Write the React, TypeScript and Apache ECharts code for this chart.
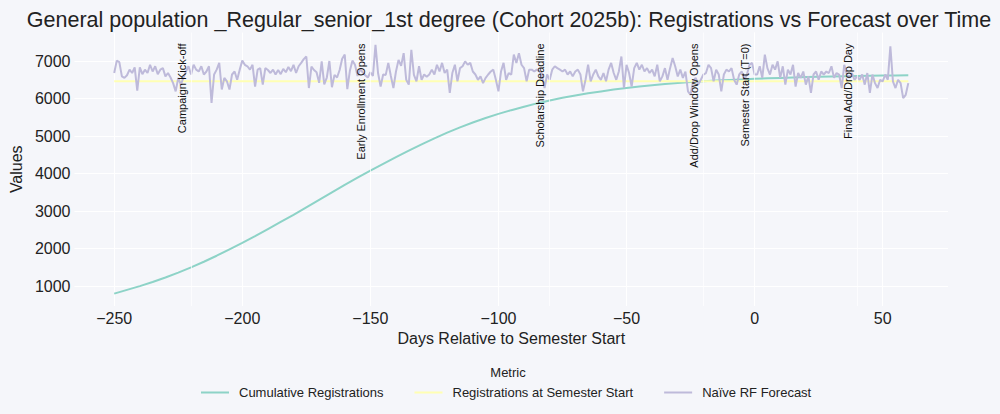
import { useEffect, useRef } from 'react';
import * as echarts from 'echarts';

const TITLE = 'General population _Regular_senior_1st degree (Cohort 2025b): Registrations vs Forecast over Time';
const X_AXIS_TITLE = 'Days Relative to Semester Start';
const Y_AXIS_TITLE = 'Values';
const LEGEND_TITLE = 'Metric';
const SERIES_NAMES = ['Cumulative Registrations', 'Registrations at Semester Start', 'Naïve RF Forecast'];
const COLORS = ['#8dd3c7', '#ffffb3', '#bebada'];

const FIRST_DAY = -250;
const LAST_DAY = 60;

// Cumulative registrations, one reading every 5 days from day -250 to day 60
const CUMULATIVE_STEP = 5;
const cumulativeValues = [
  800, 900, 1000, 1110, 1230, 1360, 1500, 1650, 1810, 1980,
  2150, 2330, 2520, 2710, 2900, 3100, 3300, 3500, 3700, 3890,
  4080, 4260, 4440, 4610, 4780, 4940, 5090, 5230, 5360, 5480,
  5590, 5690, 5780, 5870, 5950, 6020, 6080, 6140, 6190, 6240,
  6280, 6320, 6355, 6385, 6415, 6440, 6460, 6480, 6495, 6510,
  6525, 6538, 6550, 6561, 6571, 6580, 6588, 6595, 6601, 6606,
  6611, 6615, 6619,
];

const SEMESTER_START_VALUE = 6460;

// Naive RF forecast, daily, in five stretches
const forecastStartA = -250;
const forecastA = [
  6680, 7010, 6970, 6590, 6550, 6620, 6770, 6680, 6830, 6210,
  6830, 6650, 6770, 6680, 6900, 6720, 6860, 6650, 6770, 6810,
  6590, 6680, 6560, 6410, 6190, 6550, 6370, 6550, 6720, 6860,
  6640, 6900, 6770, 6720, 6860, 6640, 6720, 6860, 5880, 6640,
  6770, 6950, 6240, 6550, 6460, 6240, 6640, 6720, 6500, 6770,
  7010, 6900, 6860, 6770, 6900, 6320, 6770, 6810, 6370, 6810,
];
const forecastStartB = -190;
const forecastB = [
  6760, 6680, 6770, 6640, 6760, 6650, 6790, 6700, 6840, 6730,
  6900, 6680, 6860, 6950, 7050, 7120, 6280, 6850, 6760, 6700,
  6420, 6990, 6380, 6560, 7000, 6300, 6630, 6560, 6760, 7060,
  7170, 6250, 6740, 7010, 6900, 6600, 6780, 6700, 6620, 6560,
  6700, 6600, 7430, 6680, 6320, 6640, 6630, 6950, 6600, 6280,
  6720, 7030, 6870, 7210, 6500, 6370, 7300, 6630, 6460, 6860,
  6500, 6640, 6580, 6640,
];
const forecastStartC = -126;
const forecastC = [
  6770, 6640, 6900, 6720, 6950, 6680, 6770, 6150, 6680, 6900,
  6460, 6810, 6860, 6990, 6900, 6950, 6720, 6640, 6500, 6590,
  6410, 6550, 6640, 6720, 6770, 6500, 6190, 6720, 6950, 6500,
  6680, 6640, 7170, 6950, 7210, 6900, 6810, 6460, 6770, 6770,
  6720, 6770, 6720, 6640, 6280, 6640, 6500, 6770, 6860, 6810,
  6770, 6720, 6770, 6640, 6720, 6590, 6720, 6770, 6640, 6190,
  6500, 6900, 6460, 6640,
];
const forecastStartD = -62;
const forecastD = [
  6770, 6590, 6500, 6680, 6460, 6770, 6950, 6680, 6500, 6720,
  7120, 6280, 6900, 6680, 6320, 6810, 6950, 6770, 6900, 6720,
  6810, 6680, 6770, 6590, 6900, 6460, 6590, 6810, 6500, 6810,
  7080, 6860, 6590, 6770, 6550, 6720, 6190, 6100, 6460, 6550,
  6370, 6500, 6640, 6680, 6900, 6810, 6460, 6770, 6640, 6190,
  6640, 6770, 6720, 6810, 6500, 6370, 6640, 6720, 6500, 6640,
  6900, 6950, 6640,
];
const forecastStartE = 1;
const forecastE = [
  6640, 6860, 6550, 7170, 6810, 6640, 6900, 6770, 6990, 6550,
  6860, 6370, 6770, 6640, 6900, 6320, 6680, 6550, 6720, 6370,
  6590, 6150, 6640, 6720, 6500, 6720, 6640, 6720, 6680, 6860,
  6550, 6680, 6640, 6280, 6900, 6640, 6550, 6680, 6500, 6590,
  6500, 6640, 6370, 6680, 6150, 6640, 6410, 6280, 6500, 6460,
  6640, 6500, 7390, 6460, 6280, 6500, 6410, 6010, 6100, 6410,
];

const eventDays = [-220, -150, -80, -20, 0, 40];
const eventLabels = [
  'Campaign Kick-off',
  'Early Enrollment Opens',
  'Scholarship Deadline',
  'Add/Drop Window Opens',
  'Semester Start (T=0)',
  'Final Add/Drop Day',
];

const FONT = '"Liberation Sans", Arial, Helvetica, sans-serif';
const TEXT_COLOR = '#222222';

const fmt = (v: number) => (v < 0 ? '\u2212' + Math.abs(v) : String(v));

export default function App() {
  const ref = useRef<HTMLDivElement | null>(null);

  useEffect(() => {
    if (!ref.current) return;
    const chart = echarts.init(ref.current, null, { renderer: 'svg' });

    const cumulativeData = cumulativeValues.map((v, i) => [FIRST_DAY + i * CUMULATIVE_STEP, v]);
    const semesterData = [
      [FIRST_DAY, SEMESTER_START_VALUE],
      [LAST_DAY, SEMESTER_START_VALUE],
    ];
    const seg = (start: number, vals: number[]) => vals.map((v, i) => [start + i, v]);
    const forecastData = [
      ...seg(forecastStartA, forecastA),
      ...seg(forecastStartB, forecastB),
      ...seg(forecastStartC, forecastC),
      ...seg(forecastStartD, forecastD),
      ...seg(forecastStartE, forecastE),
    ];

    chart.setOption({
      animation: false,
      backgroundColor: '#f5f6fa',
      textStyle: { fontFamily: FONT },
      grid: { left: 68, right: 52, top: 32.5, bottom: 108, containLabel: false },
      graphic: [
        {
          type: 'text',
          x: 509,
          y: 20,
          style: {
            text: TITLE,
            fontSize: 21.5,
            fontFamily: FONT,
            fill: TEXT_COLOR,
            align: 'center',
            verticalAlign: 'middle',
          },
        },
        {
          type: 'text',
          x: 508,
          y: 372,
          style: {
            text: LEGEND_TITLE,
            fontSize: 13,
            fontFamily: FONT,
            fill: TEXT_COLOR,
            align: 'center',
            verticalAlign: 'middle',
          },
        },
      ],
      legend: {
        data: SERIES_NAMES,
        left: 201,
        top: 386,
        padding: 0,
        icon: 'rect',
        itemWidth: 28,
        itemHeight: 2,
        itemGap: 31,
        textStyle: { fontSize: 13, color: TEXT_COLOR, fontFamily: FONT, padding: [0, 0, 0, 5] },
      },
      xAxis: {
        type: 'value',
        min: -265.5,
        max: 75.5,
        minInterval: 50,
        maxInterval: 50,
        axisLine: { show: false },
        axisTick: { show: false },
        axisLabel: {
          fontSize: 16,
          color: TEXT_COLOR,
          margin: 4,
          showMinLabel: false,
          showMaxLabel: false,
          formatter: fmt,
        },
        splitLine: {
          show: true,
          showMinLine: false,
          showMaxLine: false,
          lineStyle: { color: '#ffffff', width: 1 },
        },
        name: X_AXIS_TITLE,
        nameLocation: 'middle',
        nameGap: 23,
        nameTextStyle: { fontSize: 16, color: TEXT_COLOR, fontFamily: FONT },
      },
      yAxis: {
        type: 'value',
        min: 470,
        max: 7760,
        minInterval: 1000,
        maxInterval: 1000,
        axisLine: { show: false },
        axisTick: { show: false },
        axisLabel: {
          fontSize: 16,
          color: TEXT_COLOR,
          margin: 4,
          showMinLabel: false,
          showMaxLabel: false,
          formatter: fmt,
        },
        splitLine: {
          show: true,
          showMinLine: false,
          showMaxLine: false,
          lineStyle: { color: '#ffffff', width: 1 },
        },
        name: Y_AXIS_TITLE,
        nameLocation: 'middle',
        nameGap: 42,
        nameTextStyle: { fontSize: 16, color: TEXT_COLOR, fontFamily: FONT },
      },
      series: [
        {
          name: SERIES_NAMES[0],
          type: 'line',
          data: cumulativeData,
          symbol: 'none',
          lineStyle: { color: COLORS[0], width: 2 },
          itemStyle: { color: COLORS[0] },
          emphasis: { disabled: true },
        },
        {
          name: SERIES_NAMES[1],
          type: 'line',
          data: semesterData,
          symbol: 'none',
          lineStyle: { color: COLORS[1], width: 2 },
          itemStyle: { color: COLORS[1] },
          emphasis: { disabled: true },
        },
        {
          name: SERIES_NAMES[2],
          type: 'line',
          data: forecastData,
          symbol: 'none',
          lineStyle: { color: COLORS[2], width: 2 },
          itemStyle: { color: COLORS[2] },
          emphasis: { disabled: true },
          markLine: {
            silent: true,
            symbol: ['none', 'none'],
            lineStyle: { color: 'rgba(255,255,255,0.7)', width: 1, type: 'solid', opacity: 1 },
            label: {
              show: true,
              position: 'insideEndTop',
              formatter: '{b}',
              fontSize: 11,
              color: '#111111',
              opacity: 1,
              fontFamily: FONT,
              distance: 4,
              padding: [0, 7, 0, 0],
            },
            data: eventDays.map((d, i) => ({ xAxis: d, name: eventLabels[i] })),
          },
        },
      ],
    });

    return () => {
      chart.dispose();
    };
  }, []);

  return (
    <div
      ref={ref}
      style={{ position: 'fixed', left: 0, top: 0, width: 1000, height: 414 }}
    />
  );
}
